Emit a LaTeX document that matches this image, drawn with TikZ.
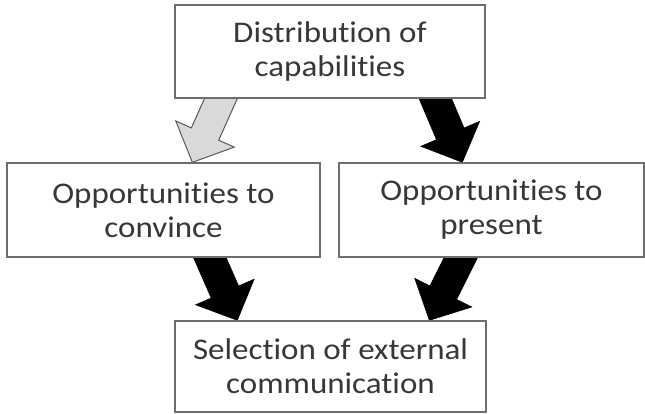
\documentclass[tikz,border=0pt]{standalone}
\usepackage{fontspec}
\setmainfont{Carlito}[FakeStretch=1.1, Ligatures={NoCommon}]
\usetikzlibrary{calc}
\pgfdeclarelayer{bg}
\pgfsetlayers{bg,main}
\definecolor{boxline}{RGB}{110,110,110}
\definecolor{txt}{RGB}{55,55,55}
\definecolor{lightarrow}{RGB}{217,217,217}
\newcommand\blockarr[3]{%
  \coordinate (ba-s) at ($(#2)!-12pt!(#3)$);
  \coordinate (ba-n) at ($(#3)!31pt!(#2)$);
  \filldraw[#1] ($(ba-s)!15pt!90:(#3)$) -- ($(ba-n)!15pt!-90:(ba-s)$) -- ($(ba-n)!32pt!-90:(ba-s)$) -- (#3)
    -- ($(ba-n)!32pt!90:(ba-s)$) -- ($(ba-n)!15pt!90:(ba-s)$) -- ($(ba-s)!15pt!-90:(#3)$) -- cycle;}
\tikzset{
  box/.style={draw=boxline, line width=1.3pt, fill=white, font=\fontsize{30}{34}\selectfont,
    text=txt, align=center, inner sep=0pt},
  grayarr/.style={fill=lightarrow, draw=boxline!80!black, line width=1pt, line join=miter},
  blackarr/.style={fill=black, draw=black, line width=0.5pt, line join=miter}
}
\begin{document}
\begin{tikzpicture}[x=1pt,y=1pt]
\useasboundingbox (0,0) rectangle (645,413);
\node[box, minimum width=310pt, minimum height=93pt] (top) at (330,361.5) {Distribution of\\capabilities};
\node[box, minimum width=313pt, minimum height=94pt] (left) at (163.5,203) {Opportunities to\\convince};
\node[box, minimum width=305pt, minimum height=94pt] (right) at (491.5,203) {Opportunities to\\present};
\node[box, minimum width=311pt, minimum height=91pt] (bottom) at (330.5,46.5) {Selection of external\\communication};
\coordinate (g1) at ($(top.south west)+(46.5,0)$);
\coordinate (g2) at ($(left.north west)+(186,0)$);
\coordinate (r1) at ($(top.south west)+(261,0)$);
\coordinate (r2) at ($(right.north west)+(124,0)$);
\coordinate (l1) at ($(left.south west)+(203.5,0)$);
\coordinate (l2) at ($(bottom.north west)+(63,0)$);
\coordinate (m1) at ($(right.south west)+(122.5,0)$);
\coordinate (m2) at ($(bottom.north west)+(255,0)$);
\begin{pgfonlayer}{bg}
\fill[white] (0,0) rectangle (645,413);
\blockarr{grayarr}{g1}{g2}
\blockarr{blackarr}{r1}{r2}
\blockarr{blackarr}{l1}{l2}
\blockarr{blackarr}{m1}{m2}
\end{pgfonlayer}
\end{tikzpicture}
\end{document}
